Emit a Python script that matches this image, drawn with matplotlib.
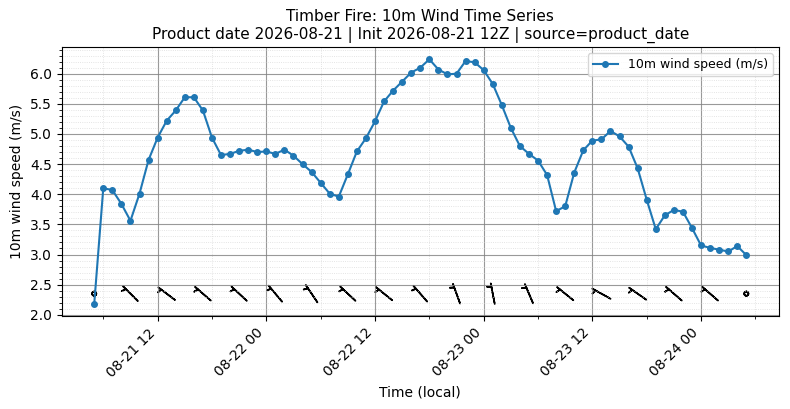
import numpy as np
import pandas as pd
import matplotlib
matplotlib.use('Agg')
import matplotlib.pyplot as plt
import matplotlib.dates as mdates
from matplotlib.ticker import AutoMinorLocator

# hourly 10m wind speed (m/s), local time
times = pd.date_range('2026-08-21 05:00', '2026-08-24 05:00', freq='h')
speed = [2.18, 4.10, 4.07, 3.84, 3.56, 4.01, 4.57, 4.94, 5.22, 5.39, 5.61, 5.61,
         5.39, 4.94, 4.65, 4.67, 4.72, 4.74, 4.70, 4.71, 4.67, 4.74, 4.64, 4.50,
         4.37, 4.19, 4.01, 3.96, 4.33, 4.71, 4.93, 5.21, 5.54, 5.72, 5.87, 6.02,
         6.10, 6.24, 6.07, 5.99, 6.00, 6.21, 6.19, 6.06, 5.83, 5.48, 5.10, 4.80,
         4.67, 4.56, 4.32, 3.72, 3.80, 4.36, 4.73, 4.89, 4.91, 5.05, 4.96, 4.79,
         4.43, 3.91, 3.42, 3.65, 3.74, 3.71, 3.44, 3.15, 3.11, 3.08, 3.05, 3.14,
         2.99]

# wind barbs every 4 h: direction wind comes from (deg) and barb speed
barb_times = times[::4]
barb_dir = [0, 315, 307, 311, 313, 320, 326, 313, 309, 319, 340, 349,
            337, 309, 299, 305, 311, 311, 0]
barb_spd = [0, 5, 5, 5, 5, 5, 5, 5, 5, 5, 5, 5, 5, 5, 5, 5, 5, 5, 0]

d = np.radians(barb_dir)
u = -np.array(barb_spd) * np.sin(d)
v = -np.array(barb_spd) * np.cos(d)

fig, ax = plt.subplots(figsize=(7.9, 4.09), dpi=100)
fig.subplots_adjust(left=0.078, right=0.986, top=0.885, bottom=0.227)
ax.plot(times, speed, marker='o', markersize=4, linewidth=1.5, color='tab:blue',
        label='10m wind speed (m/s)')
ax.barbs(mdates.date2num(barb_times), np.full(len(barb_times), 2.35), u, v,
         length=5.5, pivot='middle', linewidth=1.2, flip_barb=True,
         sizes=dict(emptybarb=0.1))

ax.set_title('Timber Fire: 10m Wind Time Series\n'
             'Product date 2026-08-21 | Init 2026-08-21 12Z | source=product_date',
             fontsize=11)
ax.set_xlabel('Time (local)')
ax.set_ylabel('10m wind speed (m/s)')

ax.xaxis.set_major_locator(mdates.HourLocator(byhour=[0, 12]))
ax.xaxis.set_minor_locator(mdates.HourLocator(byhour=[6, 18]))
ax.xaxis.set_major_formatter(mdates.DateFormatter('%m-%d %H'))
ax.yaxis.set_minor_locator(AutoMinorLocator())
plt.setp(ax.get_xticklabels(), rotation=45, ha='right')

ax.grid(which='major', color='gray', linewidth=0.8, alpha=0.8)
ax.grid(which='minor', color='lightgray', linestyle=':', linewidth=0.6, alpha=0.8)
ax.legend(loc='upper right', fontsize=9)

fig.savefig('out.png', dpi=100)
